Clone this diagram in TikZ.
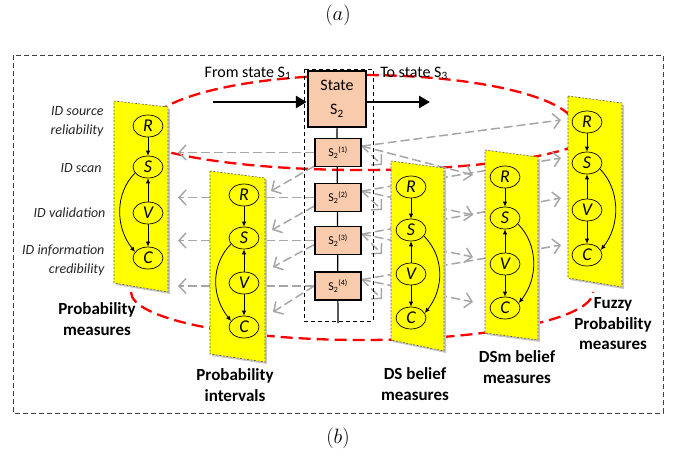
\documentclass[tikz,border=0pt]{standalone}
\usepackage{fontspec}
\newfontfamily\cfont{Carlito}
\usetikzlibrary{arrows.meta,shapes.geometric}
\definecolor{peach}{HTML}{F8CBAD}
\definecolor{pyellow}{HTML}{FFFF00}
\definecolor{garrowc}{HTML}{A6A6A6}
\pgfdeclarelayer{back}
\pgfdeclarelayer{pan}
\pgfsetlayers{back,pan,main}
\tikzset{
 panel/.style={fill=pyellow, draw=black!65, line width=0.6pt, dash pattern=on 2pt off 1.5pt},
 pshadow/.style={fill=black!22},
 var/.style={ellipse, draw=black, line width=0.7pt, minimum width=30pt, minimum height=22pt, inner sep=0pt, font=\cfont\itshape\fontsize{18}{18}\selectfont},
 varr/.style={-{Latex[length=5pt,width=4.5pt]}, line width=0.8pt},
 garrow/.style={draw=garrowc, line width=1.5pt, dash pattern=on 9pt off 4pt, -{Straight Barb[length=7pt,width=15pt]}},
 reddash/.style={draw=red, line width=2.3pt, dash pattern=on 12pt off 6pt},
 subbox/.style={draw=black, line width=1.8pt, fill=peach, minimum width=46pt, minimum height=28pt, inner sep=0pt, font=\cfont\fontsize{12}{12}\selectfont},
 statebox/.style={draw=black, line width=2.5pt, fill=peach, minimum width=58pt, minimum height=56pt, inner sep=0pt, align=center, font=\cfont\fontsize{16}{24}\selectfont},
 idlabel/.style={anchor=east, align=right, font=\cfont\itshape\fontsize{14}{19}\selectfont, text=black!85},
 plabel/.style={align=center, font=\cfont\bfseries\fontsize{17}{20.5}\selectfont},
 flow/.style={line width=2.7pt, -{Triangle[length=11pt,width=12pt]}},
 toptext/.style={anchor=base, font=\cfont\fontsize{16}{16}\selectfont},
 colbox/.style={draw=black, line width=0.8pt, dash pattern=on 4pt off 3pt},
 outerbox/.style={draw=black!75, line width=0.8pt, dash pattern=on 5pt off 3pt},
}
\begin{document}
\begin{tikzpicture}[x=1pt,y=-1pt]
\useasboundingbox (0,0) rectangle (678,455);

% captions and outer box
\node[font=\huge] (capa) at (338,15) {$(a)$};
\node[font=\huge] (capb) at (338,438) {$(b)$};
\draw[outerbox] (13,55) rectangle (663,413);

% central column
\draw[colbox] (304,69) rectangle (373,321);
\coordinate (colend) at (338,323);
\node[statebox] (state) at (337,99) {State\\S\textsubscript{2}};
\draw[line width=1.2pt] (state.south) -- (colend);
\node[subbox] (b1) at (338,152.5) {S\textsubscript{2}\textsuperscript{(1)}};
\node[subbox] (b2) at (338,197.5) {S\textsubscript{2}\textsuperscript{(2)}};
\node[subbox] (b3) at (338,240.5) {S\textsubscript{2}\textsuperscript{(3)}};
\node[subbox] (b4) at (338,286) {S\textsubscript{2}\textsuperscript{(4)}};

% flow arrows
\coordinate (fromst) at (213,102);
\coordinate (tost) at (430,102);
\draw[flow] (fromst) -- (fromst -| state.west);
\draw[flow] (tost -| state.east) -- (tost);
\node[toptext] (fromtxt) at (248,77) {From state S\textsubscript{1}};
\node[toptext] (totxt) at (414,77) {To state S\textsubscript{3}};

% panels
\begin{pgfonlayer}{pan}
\begin{scope}[shift={(2,2)}]
\fill[pshadow] (114,101) -- (168,107) -- (168,292) -- (114,283) -- cycle;
\fill[pshadow] (210,171) -- (265,178) -- (265,362) -- (210,354) -- cycle;
\fill[pshadow] (391,161) -- (444,168) -- (444,351) -- (391,340) -- cycle;
\fill[pshadow] (485,150) -- (538,157) -- (538,340) -- (485,333) -- cycle;
\fill[pshadow] (568,96) -- (622,103) -- (622,287) -- (568,278) -- cycle;
\end{scope}
\path[panel] (114,101) -- (168,107) -- (168,292) -- (114,283) -- cycle;
\path[panel] (210,171) -- (265,178) -- (265,362) -- (210,354) -- cycle;
\path[panel] (391,161) -- (444,168) -- (444,351) -- (391,340) -- cycle;
\path[panel] (485,150) -- (538,157) -- (538,340) -- (485,333) -- cycle;
\path[panel] (568,96) -- (622,103) -- (622,287) -- (568,278) -- cycle;
\end{pgfonlayer}

% panel 1
\node[var] (r1) at (148,126) {R};
\node[var] (s1) at (148,167) {S};
\node[var] (v1) at (148,213) {V};
\node[var] (c1) at (148,258) {C};
% panel 2
\node[var] (r2) at (244,195) {R};
\node[var] (s2) at (244,238) {S};
\node[var] (v2) at (244,283) {V};
\node[var] (c2) at (244,327) {C};
% panel 3
\node[var] (r3) at (411,187) {R};
\node[var] (s3) at (411,230) {S};
\node[var] (v3) at (411,274) {V};
\node[var] (c3) at (411,318) {C};
% panel 4
\node[var] (r4) at (505,177) {R};
\node[var] (s4) at (505,218) {S};
\node[var] (v4) at (505,264) {V};
\node[var] (c4) at (505,308) {C};
% panel 5
\node[var] (r5) at (587,122) {R};
\node[var] (s5) at (587,163) {S};
\node[var] (v5) at (587,210) {V};
\node[var] (c5) at (587,255) {C};

\foreach \i in {1,...,5}{
  \draw[varr] (r\i) -- (s\i);
  \draw[varr] (v\i) -- (s\i);
  \draw[varr] (v\i) -- (c\i);
}
\foreach \i in {1,2}{
  \draw[varr] (s\i.205) .. controls +(-20,20) and +(-20,-25) .. (c\i.155);
}
\foreach \i in {3,4,5}{
  \draw[varr] (s\i.-25) .. controls +(20,20) and +(20,-25) .. (c\i.20);
}

% left labels
\node[idlabel] (l1) at (107,122) {ID source\\reliability};
\node[idlabel] (l2) at (105,168) {ID scan};
\node[idlabel] (l3) at (109,213) {ID validation};
\node[idlabel] (l4) at (108,260) {ID information\\credibility};

% panel labels
\node[plabel] (p1) at (97,319) {Probability\\measures};
\node[plabel] (p2) at (235,385) {Probability\\intervals};
\node[plabel] (p3) at (415,384) {DS belief\\measures};
\node[plabel] (p4) at (517,367) {DSm belief\\measures};
\node[plabel] (p5) at (613,324) {Fuzzy\\Probability\\measures};

% background: red ellipses and grey arrows
\coordinate (lx) at (178,0);
\coordinate (q1) at (271,191);
\coordinate (q2) at (272,230);
\coordinate (q3) at (273,267);
\coordinate (q4) at (273,312);
\coordinate (t1) at (382,165);
\coordinate (t2) at (382,210);
\coordinate (t3) at (382,254);
\coordinate (t4) at (382,299);
\coordinate (u1) at (473,175);
\coordinate (u2) at (473,215);
\coordinate (u3) at (473,257);
\coordinate (u4) at (473,302);
\coordinate (w1) at (561,120);
\coordinate (w2) at (561,158);
\coordinate (w3) at (561,198);
\coordinate (w4) at (561,245);
\begin{pgfonlayer}{back}
\draw[reddash] (148,128) arc[start angle=180,end angle=360,x radius=214,y radius=53];
\draw[reddash] (126,128) arc[start angle=180,end angle=0,x radius=236,y radius=42];
\draw[reddash] (131,292) arc[start angle=180,end angle=0,x radius=231,y radius=48];
\foreach \k in {1,...,4}{
  \draw[garrow] (b\k.west) -- (b\k.west -| lx);
  \draw[garrow] (b\k.15) -- (t\k);
  \draw[garrow] (b\k.15) -- (u\k);
  \draw[garrow] (b\k.15) -- (w\k);
}
\draw[garrow] (b1.210) -- (q1);
\draw[garrow] (b2.200) -- (q2);
\draw[garrow] (b3.190) -- (q3);
\draw[garrow] (b4.180) -- (q4);
\end{pgfonlayer}
\end{tikzpicture}
\end{document}
